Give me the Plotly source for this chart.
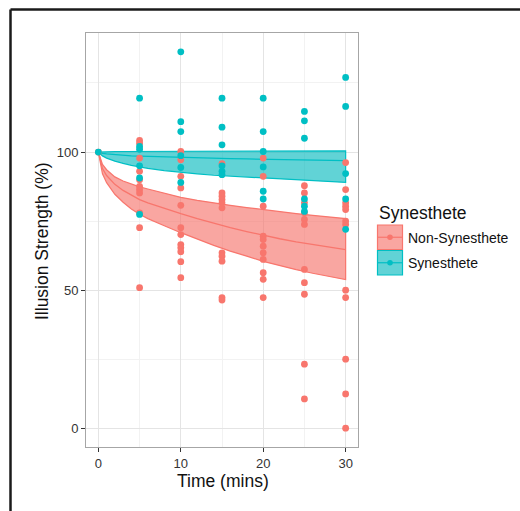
import plotly.graph_objects as go

# ---------------- data ----------------
# Observed illusion strength (%) per participant at each time (mins)
nonsyn_t0 = [100.0]
nonsyn_t5 = [104.2, 103.2, 97.8, 93.0, 90.0, 87.6, 86.4, 85.2, 78.0, 72.6, 50.9]
nonsyn_t10 = [100.2, 97.2, 91.2, 87.0, 80.7, 72.6, 70.1, 66.5, 65.3, 63.9, 60.3, 54.5]
nonsyn_t15 = [95.8, 85.2, 84.0, 82.8, 81.6, 79.8, 63.5, 62.3, 60.5, 47.3, 46.4]
nonsyn_t20 = [97.8, 91.2, 80.4, 69.5, 68.3, 65.9, 63.5, 61.1, 56.3, 53.9, 47.3]
nonsyn_t25 = [87.8, 85.2, 81.6, 78.0, 75.6, 73.8, 57.5, 52.7, 48.5, 23.2, 10.6]
nonsyn_t30 = [96.2, 86.4, 81.6, 80.4, 79.2, 75.0, 73.8, 50.0, 47.3, 25.0, 12.4, 0.0]

syn_t0 = [100.0]
syn_t5 = [119.5, 102.0, 101.0, 95.0, 90.6, 77.4]
syn_t10 = [136.3, 111.0, 107.4, 98.7, 94.4, 89.0]
syn_t15 = [119.5, 109.0, 102.6, 95.0, 93.0, 91.8]
syn_t20 = [119.5, 107.4, 100.2, 94.6, 85.8, 83.0]
syn_t25 = [114.7, 111.3, 105.0, 83.0, 80.4, 78.5]
syn_t30 = [127.0, 116.5, 92.2, 83.0, 72.0]

times = [0, 5, 10, 15, 20, 25, 30]

# Fitted curves and confidence bands
fit_time = [0, 0.5, 1, 2, 3, 4, 5, 6, 8, 10, 12, 14, 16, 18, 20, 22, 24, 26, 28, 30]
nonsyn_fit = [100, 94.0, 91.5, 88.3, 86.1, 84.3, 82.8, 81.6, 79.6, 77.7, 75.9, 74.2,
              72.6, 71.2, 69.8, 68.6, 67.5, 66.5, 65.6, 64.7]
nonsyn_upper = [100, 95.5, 93.6, 91.0, 89.5, 88.4, 87.4, 86.6, 85.0, 83.6, 82.5, 81.5,
                80.7, 79.9, 79.1, 78.4, 77.7, 77.1, 76.5, 75.9]
nonsyn_lower = [100, 92.1, 88.9, 84.7, 81.8, 79.4, 77.5, 75.9, 73.3, 70.8, 68.4, 66.2,
                64.1, 62.3, 60.4, 58.9, 57.4, 56.1, 54.9, 53.8]
syn_fit = [100, 99.5, 99.3, 99.0, 98.8, 98.6, 98.5, 98.4, 98.2, 98.0, 97.9, 97.7,
           97.6, 97.5, 97.4, 97.3, 97.2, 97.1, 97.0, 96.9]
syn_upper = [100, 100.1, 100.1, 100.2, 100.2, 100.2, 100.3, 100.3, 100.3, 100.3, 100.3,
             100.3, 100.3, 100.4, 100.4, 100.4, 100.4, 100.4, 100.4, 100.4]
syn_lower = [100, 98.6, 97.8, 96.7, 95.9, 95.2, 94.6, 94.1, 93.3, 92.6, 92.1, 91.6,
             91.2, 90.8, 90.5, 90.2, 89.9, 89.6, 89.3, 89.0]

x_ticks = [0, 10, 20, 30]
y_ticks = [0, 50, 100]
legend_labels = ["Non-Synesthete", "Synesthete"]

RED = "#F8766D"
TEAL = "#00BFC4"
RED_FILL = "rgba(245,112,104,0.62)"
TEAL_FILL = "rgba(0,184,189,0.62)"
FONT = "Liberation Sans, Arial, Helvetica, sans-serif"


def flatten(groups):
    xs, ys = [], []
    for t, vals in zip(times, groups):
        xs += [t] * len(vals)
        ys += vals
    return xs, ys


nx, ny = flatten([nonsyn_t0, nonsyn_t5, nonsyn_t10, nonsyn_t15, nonsyn_t20, nonsyn_t25, nonsyn_t30])
sx, sy = flatten([syn_t0, syn_t5, syn_t10, syn_t15, syn_t20, syn_t25, syn_t30])

fig = go.Figure()


def add_band(upper, lower, fit, col, fill):
    fig.add_trace(go.Scatter(
        x=fit_time + fit_time[::-1], y=upper + lower[::-1],
        fill="toself", fillcolor=fill, mode="lines",
        line=dict(color=col, width=1.2), showlegend=False, hoverinfo="skip"))
    fig.add_trace(go.Scatter(
        x=fit_time, y=fit, mode="lines", line=dict(color=col, width=1.3),
        showlegend=False, hoverinfo="skip"))


add_band(nonsyn_upper, nonsyn_lower, nonsyn_fit, RED, RED_FILL)
add_band(syn_upper, syn_lower, syn_fit, TEAL, TEAL_FILL)

fig.add_trace(go.Scatter(x=nx, y=ny, mode="markers", name=legend_labels[0],
                         marker=dict(color=RED, size=6.8), showlegend=False))
fig.add_trace(go.Scatter(x=sx, y=sy, mode="markers", name=legend_labels[1],
                         marker=dict(color=TEAL, size=6.8), showlegend=False))

# ---------------- layout ----------------
L, R, T, B = 86, 162, 33, 64
W, H = 520, 511
PW, PH = W - L - R, H - T - B


def px(p):
    return (p - L) / PW


def py(p):
    return (H - B - p) / PH


shapes = []
annotations = []

# outer frame (top and left edges)
shapes.append(dict(type="line", xref="paper", yref="paper", x0=px(10.5), x1=px(530),
                   y0=py(9.5), y1=py(9.5), line=dict(color="#1a1a1a", width=2.5)))
shapes.append(dict(type="line", xref="paper", yref="paper", x0=px(10.5), x1=px(10.5),
                   y0=py(9.5), y1=py(520), line=dict(color="#1a1a1a", width=2.5)))

# legend
annotations.append(dict(text="Synesthete", xref="paper", yref="paper", x=px(377), y=py(213),
                        xanchor="left", yanchor="middle", showarrow=False,
                        font=dict(family=FONT, size=17.5, color="#111")))
key_specs = [(225.0, 249.5, RED, RED_FILL, legend_labels[0]),
             (250.5, 275.0, TEAL, TEAL_FILL, legend_labels[1])]
for y0, y1, col, fill, lab in key_specs:
    shapes.append(dict(type="rect", xref="paper", yref="paper", x0=px(377.5), x1=px(402.5),
                       y0=py(y1), y1=py(y0), fillcolor=fill, line=dict(color=col, width=1.2)))
    ym = (y0 + y1) / 2
    shapes.append(dict(type="line", xref="paper", yref="paper", x0=px(377.5), x1=px(402.5),
                       y0=py(ym), y1=py(ym), line=dict(color=col, width=1.2)))
    shapes.append(dict(type="circle", xref="paper", yref="paper", x0=px(387.2), x1=px(392.8),
                       y0=py(ym + 2.8), y1=py(ym - 2.8), fillcolor=col, line=dict(width=0)))
    annotations.append(dict(text=lab, xref="paper", yref="paper", x=px(406), y=py(ym + 0.5),
                            xanchor="left", yanchor="middle", showarrow=False,
                            font=dict(family=FONT, size=14, color="#111")))

# axis titles
annotations.append(dict(text="Time (mins)", xref="paper", yref="paper", x=px(223), y=py(481),
                        xanchor="center", yanchor="middle", showarrow=False,
                        font=dict(family=FONT, size=17.5, color="#111")))
annotations.append(dict(text="Illusion Strength (%)", xref="paper", yref="paper", x=px(42),
                        y=py(241), xanchor="center", yanchor="middle", showarrow=False,
                        textangle=-90, font=dict(family=FONT, size=17.5, color="#111")))

fig.update_layout(
    width=W, height=H, margin=dict(l=L, r=R, t=T, b=B),
    paper_bgcolor="white", plot_bgcolor="white",
    font=dict(family=FONT), shapes=shapes, annotations=annotations,
    showlegend=False,
)
fig.update_xaxes(range=[-1.5, 31.5], tickvals=x_ticks, ticks="outside", ticklen=4,
                 tickcolor="#333", tickwidth=1, tickfont=dict(size=13, color="#333"),
                 showgrid=True, gridcolor="#e4e4e4", gridwidth=1,
                 minor=dict(tickvals=[5, 15, 25], showgrid=True, gridcolor="#f2f2f2", ticks=""),
                 zeroline=False, showline=True, mirror=True, linecolor="#a6a6a6", linewidth=1)
fig.update_yaxes(range=[-6.8, 143.1], tickvals=y_ticks, ticks="outside", ticklen=4,
                 tickcolor="#333", tickwidth=1, tickfont=dict(size=13, color="#333"),
                 showgrid=True, gridcolor="#e4e4e4", gridwidth=1,
                 minor=dict(tickvals=[25, 75, 125], showgrid=True, gridcolor="#f2f2f2", ticks=""),
                 zeroline=False, showline=True, mirror=True, linecolor="#a6a6a6", linewidth=1)

fig.write_html("out.html", config={"displayModeBar": False},
               post_script="document.body.style.margin='0';document.body.style.overflow='hidden';")
